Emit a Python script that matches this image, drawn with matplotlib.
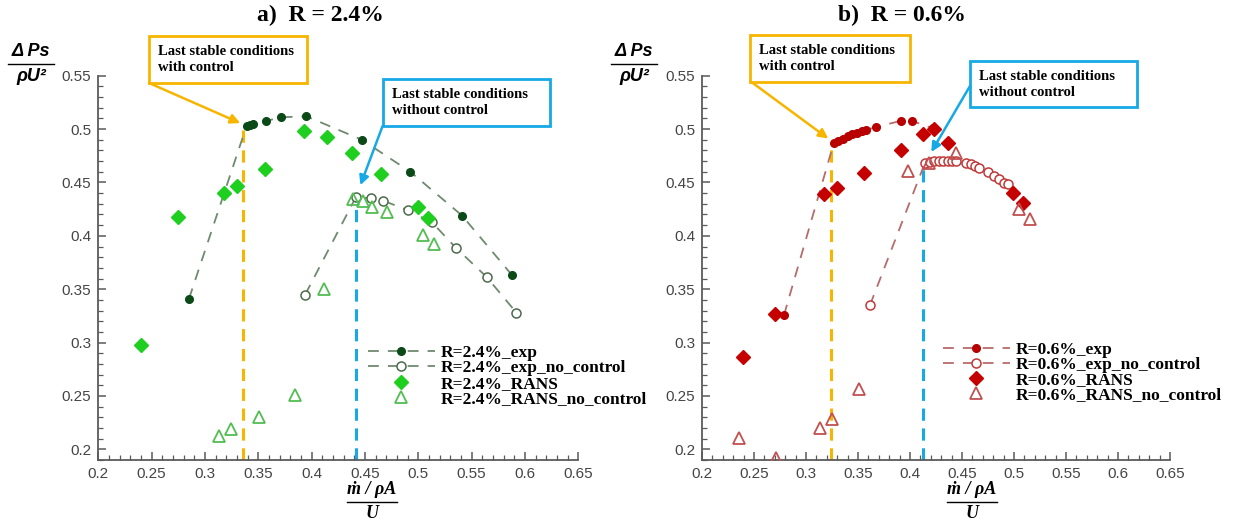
import matplotlib
matplotlib.use("Agg")
import matplotlib.pyplot as plt
from matplotlib.lines import Line2D
from matplotlib.patches import Rectangle
from matplotlib.ticker import MultipleLocator, FixedLocator

# ---------------- data: panel a (R = 2.4%) ----------------
a_exp_x = [0.285, 0.339, 0.342, 0.345, 0.357, 0.371, 0.395, 0.447, 0.4925, 0.541, 0.588]
a_exp_y = [0.341, 0.503, 0.504, 0.505, 0.5075, 0.511, 0.512, 0.490, 0.460, 0.419, 0.363]
a_nc_x = [0.394, 0.4416, 0.456, 0.467, 0.490, 0.513, 0.535, 0.564, 0.592]
a_nc_y = [0.345, 0.4365, 0.435, 0.433, 0.424, 0.4125, 0.389, 0.3615, 0.328]
a_rans_x = [0.240, 0.2746, 0.318, 0.3297, 0.3566, 0.3928, 0.4141, 0.4375, 0.465, 0.500, 0.5088]
a_rans_y = [0.2975, 0.4175, 0.440, 0.4466, 0.4622, 0.4984, 0.4922, 0.4775, 0.4575, 0.4266, 0.4163]
a_rnc_x = [0.3132, 0.3241, 0.3503, 0.3847, 0.4116, 0.4385, 0.4485, 0.4569, 0.471, 0.5047, 0.515]
a_rnc_y = [0.2125, 0.2194, 0.2306, 0.2506, 0.350, 0.4344, 0.4325, 0.4272, 0.4219, 0.4006, 0.3919]
a_limits_x = [0.3354, 0.4413]     # last stable: with / without control
a_limits_y = [0.501, 0.434]

# ---------------- data: panel b (R = 0.6%) ----------------
b_exp_x = [0.2788, 0.3268, 0.3308, 0.3354, 0.3402, 0.3444, 0.3488, 0.3535, 0.3574,
           0.3673, 0.3916, 0.4022, 0.4224]
b_exp_y = [0.3256, 0.4872, 0.4888, 0.491, 0.4931, 0.495, 0.4966, 0.4978, 0.499,
           0.5019, 0.5078, 0.5075, 0.5006]
b_nc_x = [0.3615, 0.4144, 0.4192, 0.4234, 0.4279, 0.432, 0.4363, 0.4404, 0.4445, 0.4538,
          0.4583, 0.4625, 0.4667, 0.4747, 0.4808, 0.4859, 0.4904, 0.4945]
b_nc_y = [0.335, 0.4684, 0.4693, 0.470, 0.4703, 0.4703, 0.4703, 0.4703, 0.4697, 0.4678,
          0.4669, 0.4656, 0.4634, 0.460, 0.4562, 0.4528, 0.4497, 0.449]
b_rans_x = [0.2391, 0.2702, 0.3176, 0.3295, 0.356, 0.3913, 0.4128, 0.4234, 0.4368, 0.4988, 0.509]
b_rans_y = [0.2866, 0.3266, 0.4388, 0.445, 0.4585, 0.4803, 0.495, 0.5005, 0.4872, 0.4397, 0.4303]
b_rnc_x = [0.2359, 0.2708, 0.3135, 0.3247, 0.351, 0.3978, 0.4186, 0.4442, 0.5051, 0.5154]
b_rnc_y = [0.211, 0.192, 0.220, 0.2288, 0.2562, 0.4609, 0.4684, 0.4772, 0.4247, 0.4153]
b_limits_x = [0.3237, 0.4128]
b_limits_y = [0.486, 0.4653]

x_ticks = [0.2, 0.25, 0.3, 0.35, 0.4, 0.45, 0.5, 0.55, 0.6, 0.65]
y_ticks = [0.2, 0.25, 0.3, 0.35, 0.4, 0.45, 0.5, 0.55]
x_tick_labels = ["0.2", "0.25", "0.3", "0.35", "0.4", "0.45", "0.5", "0.55", "0.6", "0.65"]
y_tick_labels = ["0.2", "0.25", "0.3", "0.35", "0.4", "0.45", "0.5", "0.55"]

titles = ["a)  R = 2.4%", "b)  R = 0.6%"]
box_ctrl = "Last stable conditions\nwith control"
box_noctrl = "Last stable conditions\nwithout control"

W, H = 1241, 527
fig = plt.figure(figsize=(W / 100, H / 100), dpi=100)


def fx(p):
    return p / W


def fy(p):
    return 1 - p / H


ORANGE = "#f7b500"
BLUE = "#16a9e6"
SERIF = ["Liberation Serif", "DejaVu Serif"]
SANS = ["Liberation Sans", "DejaVu Sans"]
AXC = "#5a5a5a"


def style_axes(ax):
    ax.set_xlim(0.2, 0.65)
    ax.set_ylim(0.19, 0.55)
    for s in ("top", "right"):
        ax.spines[s].set_visible(False)
    for s in ("left", "bottom"):
        ax.spines[s].set_color(AXC)
        ax.spines[s].set_linewidth(1.3)
    ax.spines["left"].set_bounds(0.19, 0.55)
    ax.xaxis.set_major_locator(FixedLocator(x_ticks))
    ax.yaxis.set_major_locator(FixedLocator(y_ticks))
    ax.set_xticklabels(x_tick_labels, family=SANS)
    ax.set_yticklabels(y_tick_labels, family=SANS)
    ax.xaxis.set_minor_locator(MultipleLocator(0.01))
    ax.yaxis.set_minor_locator(MultipleLocator(0.01))
    ax.tick_params(which="major", direction="in", length=6, width=1.1, color=AXC,
                   labelsize=11, labelcolor="#454545", pad=5)
    ax.tick_params(which="minor", direction="in", length=3.5, width=0.9, color=AXC)
    ax.patch.set_alpha(0)


def panel(ax, ex, ey, nx, ny, rx, ry, tx, ty, lim_x, lim_y, cols, tag):
    c_exp, c_line, c_nc, c_rans, c_rnc = cols
    dash = (0, (6, 5))
    ax.plot(ex, ey, ls=dash, color=c_line, lw=1.3, marker="o", ms=5.5,
            mfc=c_exp, mec=c_exp, label=f"R={tag}%_exp", zorder=3)
    ax.plot(nx, ny, ls=dash, color=c_line, lw=1.3, marker="o", ms=6.5,
            mfc="white", mec=c_nc, mew=1.1, label=f"R={tag}%_exp_no_control", zorder=3)
    ax.plot(rx, ry, ls="none", marker="D", ms=7, mfc=c_rans, mec=c_rans,
            label=f"R={tag}%_RANS", zorder=4)
    ax.plot(tx, ty, ls="none", marker="^", ms=8.5, mfc="none", mec=c_rnc, mew=1.3,
            label=f"R={tag}%_RANS_no_control", zorder=4)
    ax.plot([lim_x[0]] * 2, [0.19, lim_y[0]], color=ORANGE, lw=2.2, ls=(0, (4, 2.5)), zorder=2)
    ax.plot([lim_x[1]] * 2, [0.19, lim_y[1]], color=BLUE, lw=2.2, ls=(0, (4, 2.5)), zorder=2)


# ---------------- axes ----------------
ax_a = fig.add_axes([fx(98.3), fy(460), fx(578.3) - fx(98.3), fy(75.7) - fy(460)])
ax_b = fig.add_axes([fx(702), fy(460), fx(1170) - fx(702), fy(75.7) - fy(460)])

green = ("#0b4a17", "#6f8a6f", "#4e6a4e", "#1fcf1f", "#52bd52")
red = ("#b80000", "#b86b6b", "#c03a3a", "#c40000", "#c25050")

panel(ax_a, a_exp_x, a_exp_y, a_nc_x, a_nc_y, a_rans_x, a_rans_y, a_rnc_x, a_rnc_y,
      a_limits_x, a_limits_y, green, "2.4")
panel(ax_b, b_exp_x, b_exp_y, b_nc_x, b_nc_y, b_rans_x, b_rans_y, b_rnc_x, b_rnc_y,
      b_limits_x, b_limits_y, red, "0.6")

for ax in (ax_a, ax_b):
    style_axes(ax)

# legends
for ax, lx, ly in ((ax_a, 367.6, 345.0), (ax_b, 942.6, 341.5)):
    ax.legend(loc="upper left", bbox_to_anchor=(fx(lx), fy(ly)), bbox_transform=fig.transFigure,
              frameon=False, borderpad=0, borderaxespad=0, handlelength=3.9,
              handletextpad=0.3, labelspacing=-0.05, numpoints=1,
              prop={"family": SERIF, "weight": "bold", "size": 12.5})

# titles
for cx, t in ((320, titles[0]), (902, titles[1])):
    fig.text(fx(cx), fy(15), t, ha="center", va="center", family=SERIF,
             weight="bold", size=17)

# y-axis labels (fraction)
for cx in (31, 634):
    fig.text(fx(cx), fy(52), "\u0394 Ps", ha="center", va="center", family=SANS,
             weight="bold", style="italic", size=13)
    fig.add_artist(Line2D([fx(cx - 23), fx(cx + 23)], [fy(64), fy(64)],
                          transform=fig.transFigure, color="black", lw=1.0))
    fig.text(fx(cx), fy(76), "\u03c1U\u00b2", ha="center", va="center", family=SANS,
             weight="bold", style="italic", size=13)

# x-axis labels (fraction)
for cx in (372, 972):
    fig.text(fx(cx), fy(490), "\u1e41 / \u03c1A", ha="center", va="center", family=SERIF,
             weight="bold", style="italic", size=13)
    fig.add_artist(Line2D([fx(cx - 25), fx(cx + 25)], [fy(502), fy(502)],
                          transform=fig.transFigure, color="black", lw=1.0))
    fig.text(fx(cx), fy(514), "U", ha="center", va="center", family=SERIF,
             weight="bold", style="italic", size=13)


# annotation boxes with arrows
def callout(ax, x0, y0, x1, y1, text, color, tail, target, shrink):
    fig.add_artist(Rectangle((fx(x0), fy(y1)), fx(x1) - fx(x0), fy(y0) - fy(y1),
                             transform=fig.transFigure, fill=True, facecolor="white",
                             edgecolor=color, lw=2.0, zorder=5))
    fig.text(fx(x0 + 9), fy((y0 + y1) / 2), text, ha="left", va="center", family=SERIF,
             weight="bold", size=10.5, linespacing=1.3, zorder=6)
    ax.annotate("", xy=target, xycoords="data",
                xytext=(fx(tail[0]), fy(tail[1])), textcoords="figure fraction",
                arrowprops=dict(arrowstyle="-|>", color=color, lw=1.8, shrinkA=0,
                                shrinkB=shrink, mutation_scale=14),
                annotation_clip=False, zorder=6)


callout(ax_a, 149, 36, 307, 83, box_ctrl, ORANGE, (149, 83), (a_exp_x[1], a_exp_y[1]), 5)
callout(ax_a, 382.6, 79, 550, 126, box_noctrl, BLUE, (382.6, 126), (a_nc_x[1], a_nc_y[1]), 9)
callout(ax_b, 749.6, 35, 909.9, 81.7, box_ctrl, ORANGE, (751, 81.7), (b_exp_x[1], b_exp_y[1]), 5)
callout(ax_b, 970, 60.7, 1136.8, 107.3, box_noctrl, BLUE, (970, 86), (b_nc_x[1], b_nc_y[1]), 9)

fig.savefig("out.png", dpi=100, facecolor="white")
